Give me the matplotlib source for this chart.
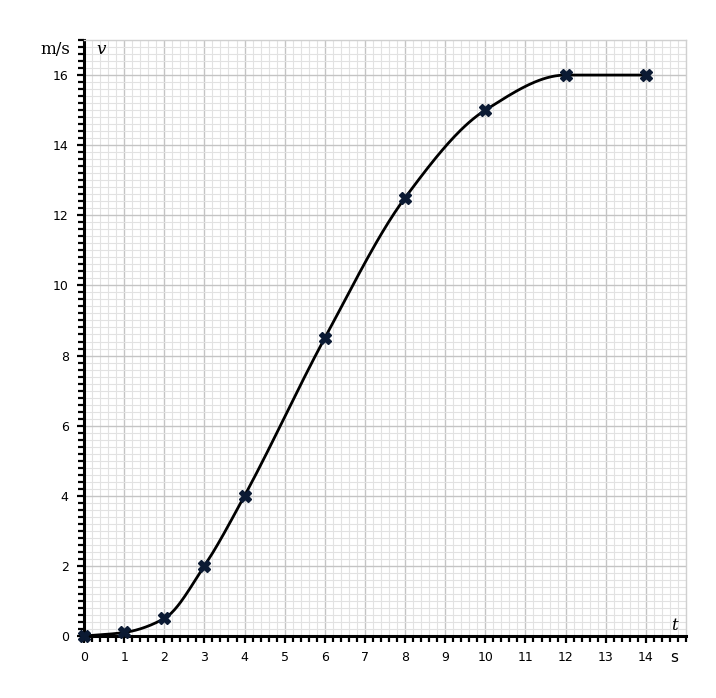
import numpy as np
import matplotlib
matplotlib.use("Agg")
import matplotlib.pyplot as plt
from matplotlib.ticker import MultipleLocator

# measured points (t in s, v in m/s)
t_vals = [0, 1, 2, 3, 4, 6, 8, 10, 12, 14]
v_vals = [0, 0.1, 0.5, 2, 4, 8.5, 12.5, 15, 16, 16]
x_ticks = list(range(0, 15))
y_ticks = list(range(0, 17, 2))


def _smooth(x, y, n=40):
    # monotone cubic (Fritsch-Carlson) for a smooth line through the points
    x = np.asarray(x, float)
    y = np.asarray(y, float)
    h = np.diff(x)
    d = np.diff(y) / h
    m = np.zeros_like(y)
    m[0], m[-1] = d[0], d[-1]
    for i in range(1, len(x) - 1):
        if d[i - 1] * d[i] <= 0:
            m[i] = 0
        else:
            w1 = 2 * h[i] + h[i - 1]
            w2 = h[i] + 2 * h[i - 1]
            m[i] = (w1 + w2) / (w1 / d[i - 1] + w2 / d[i])
    xs, ys = [], []
    for i in range(len(x) - 1):
        s = np.linspace(0, 1, n)
        h00 = 2 * s**3 - 3 * s**2 + 1
        h10 = s**3 - 2 * s**2 + s
        h01 = -2 * s**3 + 3 * s**2
        h11 = s**3 - s**2
        xs.append(x[i] + s * h[i])
        ys.append(h00 * y[i] + h10 * h[i] * m[i] + h01 * y[i + 1] + h11 * h[i] * m[i + 1])
    return np.concatenate(xs), np.concatenate(ys)


fig = plt.figure(figsize=(7.16, 6.98), dpi=100)
ax = fig.add_axes([84 / 716, 62 / 698, 602 / 716, 596 / 698])
ax.set_xlim(0, 15)
ax.set_ylim(0, 17)

ax.xaxis.set_major_locator(MultipleLocator(1))
ax.xaxis.set_minor_locator(MultipleLocator(0.2))
ax.yaxis.set_major_locator(MultipleLocator(2))
ax.yaxis.set_minor_locator(MultipleLocator(0.2))
ax.set_xticks(x_ticks)
ax.set_yticks(y_ticks)

ax.grid(which="minor", color="#e2e2e2", linewidth=0.8)
ax.grid(which="major", color="#c4c4c4", linewidth=1.0)
ax.set_axisbelow(True)

for side in ("top", "right"):
    ax.spines[side].set_color("#d0d0d0")
    ax.spines[side].set_linewidth(1.0)
for side in ("left", "bottom"):
    ax.spines[side].set_color("black")
    ax.spines[side].set_linewidth(2.2)

ax.tick_params(which="major", direction="out", length=5, width=1.6, labelsize=9,
               colors="black", pad=6)
ax.tick_params(which="minor", direction="out", length=4, width=1.6, colors="black")
ax.tick_params(top=False, right=False, which="both")

xs, ys = _smooth(t_vals, v_vals)
ax.plot(xs, ys, color="black", linewidth=2, zorder=3, clip_on=False)
ax.plot(t_vals, v_vals, linestyle="none", marker="X", markersize=9,
        color="#0b1a33", markeredgecolor="#0b1a33", zorder=4, clip_on=False)

fig.text(40 / 716, 1 - 50 / 698, "m/s", fontsize=12, family="DejaVu Serif",
         va="center", ha="left")
fig.text(96 / 716, 1 - 49 / 698, "v", fontsize=12, family="DejaVu Serif",
         style="italic", va="center", ha="left")
fig.text(671 / 716, 1 - 625 / 698, "t", fontsize=12, family="DejaVu Serif",
         style="italic", va="center", ha="left")
fig.text(670 / 716, 1 - 657 / 698, "s", fontsize=11, family="DejaVu Sans",
         va="center", ha="left")

fig.savefig("out.png", dpi=100)
